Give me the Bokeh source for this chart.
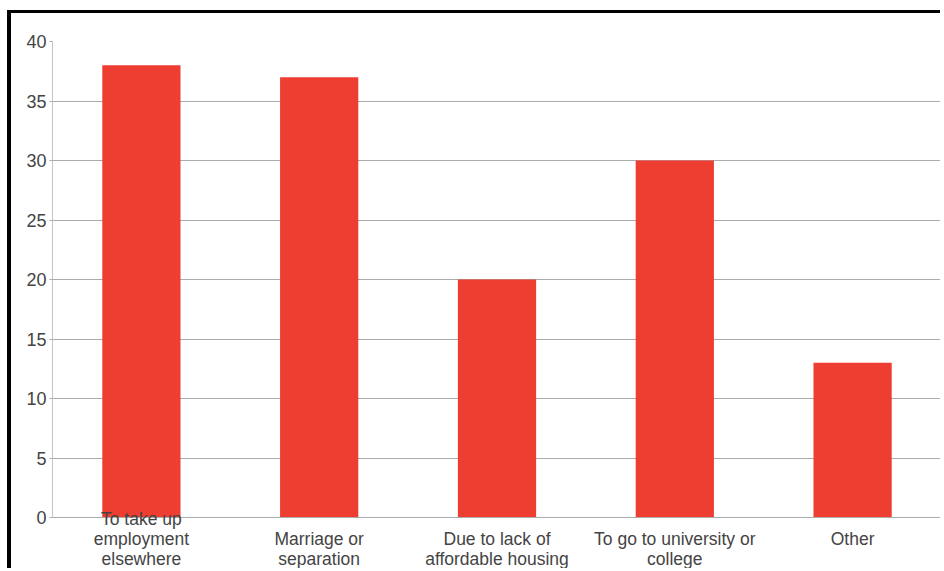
from bokeh.plotting import figure
from bokeh.models import FactorRange, Range1d, FixedTicker
from bokeh.embed import file_html
from bokeh.resources import INLINE

categories = ["To take up\nemployment\nelsewhere", "\nMarriage or\nseparation",
              "\nDue to lack of\naffordable housing", "\nTo go to university or\ncollege", "\nOther"]
values = [38, 37, 20, 30, 13]
y_ticks = [0, 5, 10, 15, 20, 25, 30, 35, 40]

p = figure(width=933, height=558, output_backend="svg", toolbar_location=None,
           x_range=FactorRange(*categories, range_padding=0), y_range=Range1d(0, 40),
           min_border_left=41, min_border_right=3, min_border_top=28, min_border_bottom=53)
p.styles = {"margin-left": "7px", "margin-top": "10px",
            "border-left": "4px solid black", "border-top": "3px solid black"}

p.vbar(x=categories, top=values, width=0.44, color="#ee3d31", line_color=None)

p.outline_line_color = None
p.xgrid.grid_line_color = None
p.ygrid.grid_line_color = "#ababab"
p.ygrid.grid_line_width = 1
p.yaxis.ticker = FixedTicker(ticks=y_ticks)
p.yaxis.axis_line_color = "#c4c4c4"
p.yaxis.major_tick_line_color = "#ababab"
p.yaxis.major_tick_out = 3
p.yaxis.major_tick_in = 0
p.yaxis.minor_tick_line_color = None
p.yaxis.major_label_standoff = 3
p.yaxis.major_label_text_font = "Liberation Sans"
p.yaxis.major_label_text_font_size = "18px"
p.yaxis.major_label_text_color = "#444444"

p.xaxis.axis_line_color = "#ababab"
p.xaxis.major_tick_line_color = None
p.xaxis.minor_tick_line_color = None
p.xaxis.major_tick_out = 0
p.xaxis.major_tick_in = 0
p.xaxis.major_label_standoff = -9
p.xaxis.major_label_text_font = "Liberation Sans"
p.xaxis.major_label_text_font_size = "17.5px"
p.xaxis.major_label_text_color = "#444444"
p.xaxis.major_label_text_line_height = 1.0

open("out.html", "w").write(file_html(p, INLINE))
